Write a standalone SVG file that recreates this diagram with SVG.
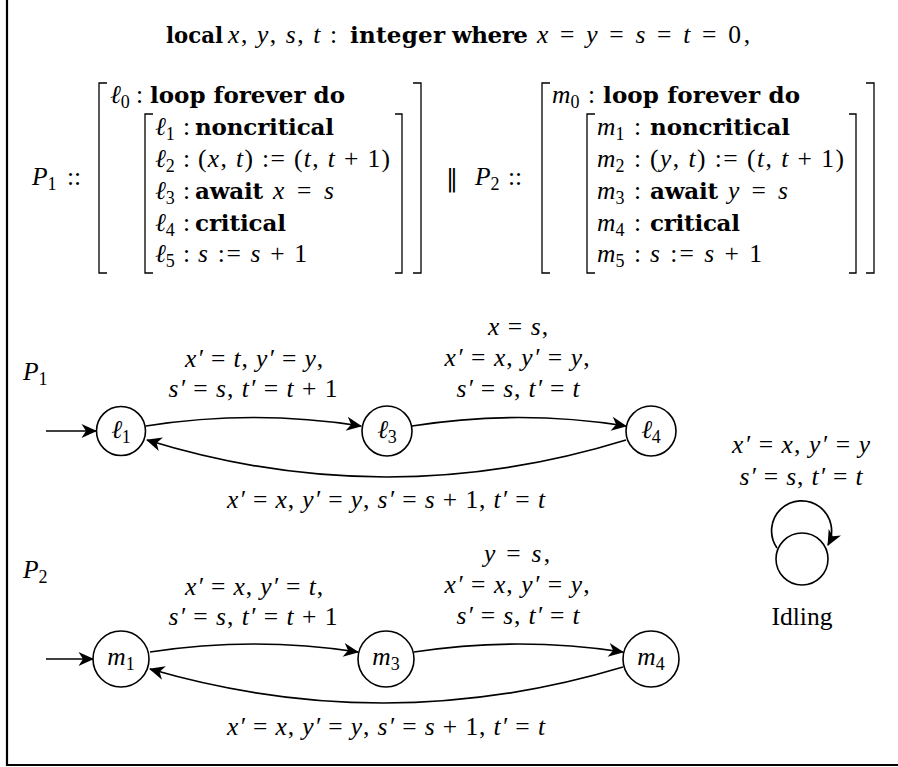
<svg xmlns="http://www.w3.org/2000/svg" width="898" height="767" viewBox="0 0 898 767">
<defs>
<style>
text { font-family: "Liberation Serif", "DejaVu Serif", serif; font-size: 25.5px; fill: #000; }
.i { font-style: italic; }
.b { font-family: "DejaVu Serif", "Liberation Serif", serif; font-weight: bold; font-size: 23px; }
.s { font-size: 18px; }
.c { text-anchor: middle; }
.par { font-family: "DejaVu Serif", serif; font-size: 24px; }
.br { fill: none; stroke: #000; stroke-width: 1.3; }
.e { fill: none; stroke: #000; stroke-width: 1.7; marker-end: url(#ah); }
.n { fill: #fff; stroke: #000; stroke-width: 1.6; }
.frame { fill: none; stroke: #000; stroke-width: 2.2; }
</style>
<marker id="ah" viewBox="-17 -9 19 18" refX="0" refY="0" markerWidth="19" markerHeight="18" markerUnits="userSpaceOnUse" orient="auto">
<path d="M1,0 L-14.5,-7 L-10,0 L-14.5,7 Z" fill="#000"/>
</marker>
</defs>
<rect width="898" height="767" fill="#fff"/>
<path class="frame" d="M7,0 V765 H898"/>

<g id="program">
<text class="b" x="166" y="43" textLength="57" lengthAdjust="spacingAndGlyphs">local</text>
<text x="228" y="43" textLength="109" lengthAdjust="spacing"><tspan class="i">x</tspan>, <tspan class="i">y</tspan>, <tspan class="i">s</tspan>, <tspan class="i">t</tspan> :</text>
<text class="b" x="350" y="43" textLength="95" lengthAdjust="spacing">integer</text>
<text class="b" x="452" y="43" textLength="76" lengthAdjust="spacing">where</text>
<text x="537" y="43" textLength="213" lengthAdjust="spacing"><tspan class="i">x</tspan> = <tspan class="i">y</tspan> = <tspan class="i">s</tspan> = <tspan class="i">t</tspan> = 0,</text>

<text x="32" y="185"><tspan class="i">P</tspan><tspan class="s" baseline-shift="-5">1</tspan></text>
<text x="67" y="185">::</text>
<path class="br" d="M107,83 H99 V273 H107 M413,83 H421 V273 H413 M153,114 H145 V273 H153 M395,114 H402 V273 H395"/>
<text x="110" y="103"><tspan class="i">ℓ</tspan><tspan class="s" baseline-shift="-5">0</tspan></text>
<text x="136" y="103">:</text>
<text class="b" x="150" y="103" textLength="195" lengthAdjust="spacing">loop forever do</text>
<text x="155" y="135"><tspan class="i">ℓ</tspan><tspan class="s" baseline-shift="-5">1</tspan></text>
<text x="183" y="135">:</text>
<text class="b" x="195" y="135" textLength="139" lengthAdjust="spacing">noncritical</text>
<text x="155" y="167"><tspan class="i">ℓ</tspan><tspan class="s" baseline-shift="-5">2</tspan></text>
<text x="183" y="167">:</text>
<text x="198" y="167" textLength="192" lengthAdjust="spacing">(<tspan class="i">x</tspan>, <tspan class="i">t</tspan>) := (<tspan class="i">t</tspan>, <tspan class="i">t</tspan> + 1)</text>
<text x="155" y="199"><tspan class="i">ℓ</tspan><tspan class="s" baseline-shift="-5">3</tspan></text>
<text x="183" y="199">:</text>
<text class="b" x="195" y="199" textLength="68" lengthAdjust="spacing">await</text>
<text x="273" y="199" textLength="61" lengthAdjust="spacing"><tspan class="i">x</tspan> = <tspan class="i">s</tspan></text>
<text x="155" y="231"><tspan class="i">ℓ</tspan><tspan class="s" baseline-shift="-5">4</tspan></text>
<text x="183" y="231">:</text>
<text class="b" x="195" y="231" textLength="91" lengthAdjust="spacing">critical</text>
<text x="155" y="262"><tspan class="i">ℓ</tspan><tspan class="s" baseline-shift="-5">5</tspan></text>
<text x="183" y="262">:</text>
<text x="198" y="262" textLength="109" lengthAdjust="spacing"><tspan class="i">s</tspan> := <tspan class="i">s</tspan> + 1</text>

<text class="par" x="446" y="186">‖</text>
<text x="475" y="185"><tspan class="i">P</tspan><tspan class="s" baseline-shift="-5">2</tspan></text>
<text x="508" y="185">::</text>
<path class="br" d="M550,83 H542 V273 H550 M866,83 H874 V273 H866 M595,114 H587 V273 H595 M849,114 H856 V273 H849"/>
<text x="552" y="103"><tspan class="i">m</tspan><tspan class="s" baseline-shift="-5">0</tspan></text>
<text x="588" y="103">:</text>
<text class="b" x="603" y="103" textLength="197" lengthAdjust="spacing">loop forever do</text>
<text x="597" y="135"><tspan class="i">m</tspan><tspan class="s" baseline-shift="-5">1</tspan></text>
<text x="634" y="135">:</text>
<text class="b" x="650" y="135" textLength="140" lengthAdjust="spacing">noncritical</text>
<text x="597" y="167"><tspan class="i">m</tspan><tspan class="s" baseline-shift="-5">2</tspan></text>
<text x="634" y="167">:</text>
<text x="650" y="167" textLength="194" lengthAdjust="spacing">(<tspan class="i">y</tspan>, <tspan class="i">t</tspan>) := (<tspan class="i">t</tspan>, <tspan class="i">t</tspan> + 1)</text>
<text x="597" y="199"><tspan class="i">m</tspan><tspan class="s" baseline-shift="-5">3</tspan></text>
<text x="634" y="199">:</text>
<text class="b" x="650" y="199" textLength="68" lengthAdjust="spacing">await</text>
<text x="728" y="199" textLength="60" lengthAdjust="spacing"><tspan class="i">y</tspan> = <tspan class="i">s</tspan></text>
<text x="597" y="231"><tspan class="i">m</tspan><tspan class="s" baseline-shift="-5">4</tspan></text>
<text x="634" y="231">:</text>
<text class="b" x="650" y="231" textLength="90" lengthAdjust="spacing">critical</text>
<text x="597" y="262"><tspan class="i">m</tspan><tspan class="s" baseline-shift="-5">5</tspan></text>
<text x="634" y="262">:</text>
<text x="650" y="262" textLength="112" lengthAdjust="spacing"><tspan class="i">s</tspan> := <tspan class="i">s</tspan> + 1</text>
</g>

<g id="titles">
<text x="23" y="380"><tspan class="i">P</tspan><tspan class="s" baseline-shift="-5">1</tspan></text>
<text x="23" y="578"><tspan class="i">P</tspan><tspan class="s" baseline-shift="-5">2</tspan></text>
</g>

<g id="connectors">
<path class="e" d="M46,431 H96"/>
<path class="e" d="M146,426 Q254,409 361,426"/>
<path class="e" d="M412,426 Q519,409 626,426"/>
<path class="e" d="M626,440 Q386,514 147,440"/>
<path class="e" d="M46,659 H93"/>
<path class="e" d="M150,652 Q254,636 358,652"/>
<path class="e" d="M414,652 Q519,636 623,652"/>
<path class="e" d="M623,667 Q387,738 150,669"/>
<path class="e" d="M777,548 A30,30 0 1 1 828,545"/>
</g>

<g id="labels">
<text class="c" x="254" y="367" textLength="138" lengthAdjust="spacing"><tspan class="i">x′</tspan> = <tspan class="i">t</tspan>, <tspan class="i">y′</tspan> = <tspan class="i">y</tspan>,</text>
<text class="c" x="253" y="397" textLength="169" lengthAdjust="spacing"><tspan class="i">s′</tspan> = <tspan class="i">s</tspan>, <tspan class="i">t′</tspan> = <tspan class="i">t</tspan> + 1</text>
<text class="c" x="518" y="335" textLength="60" lengthAdjust="spacing"><tspan class="i">x</tspan> = <tspan class="i">s</tspan>,</text>
<text class="c" x="517" y="366" textLength="145" lengthAdjust="spacing"><tspan class="i">x′</tspan> = <tspan class="i">x</tspan>, <tspan class="i">y′</tspan> = <tspan class="i">y</tspan>,</text>
<text class="c" x="518" y="397" textLength="123" lengthAdjust="spacing"><tspan class="i">s′</tspan> = <tspan class="i">s</tspan>, <tspan class="i">t′</tspan> = <tspan class="i">t</tspan></text>
<text class="c" x="386" y="508" textLength="318" lengthAdjust="spacing"><tspan class="i">x′</tspan> = <tspan class="i">x</tspan>, <tspan class="i">y′</tspan> = <tspan class="i">y</tspan>, <tspan class="i">s′</tspan> = <tspan class="i">s</tspan> + 1, <tspan class="i">t′</tspan> = <tspan class="i">t</tspan></text>

<text class="c" x="254" y="595" textLength="138" lengthAdjust="spacing"><tspan class="i">x′</tspan> = <tspan class="i">x</tspan>, <tspan class="i">y′</tspan> = <tspan class="i">t</tspan>,</text>
<text class="c" x="253" y="625" textLength="169" lengthAdjust="spacing"><tspan class="i">s′</tspan> = <tspan class="i">s</tspan>, <tspan class="i">t′</tspan> = <tspan class="i">t</tspan> + 1</text>
<text class="c" x="517" y="562" textLength="66" lengthAdjust="spacing"><tspan class="i">y</tspan> = <tspan class="i">s</tspan>,</text>
<text class="c" x="517" y="593" textLength="145" lengthAdjust="spacing"><tspan class="i">x′</tspan> = <tspan class="i">x</tspan>, <tspan class="i">y′</tspan> = <tspan class="i">y</tspan>,</text>
<text class="c" x="518" y="624" textLength="123" lengthAdjust="spacing"><tspan class="i">s′</tspan> = <tspan class="i">s</tspan>, <tspan class="i">t′</tspan> = <tspan class="i">t</tspan></text>
<text class="c" x="386" y="735" textLength="318" lengthAdjust="spacing"><tspan class="i">x′</tspan> = <tspan class="i">x</tspan>, <tspan class="i">y′</tspan> = <tspan class="i">y</tspan>, <tspan class="i">s′</tspan> = <tspan class="i">s</tspan> + 1, <tspan class="i">t′</tspan> = <tspan class="i">t</tspan></text>

<text class="c" x="801" y="453" textLength="138" lengthAdjust="spacing"><tspan class="i">x′</tspan> = <tspan class="i">x</tspan>, <tspan class="i">y′</tspan> = <tspan class="i">y</tspan></text>
<text class="c" x="801" y="485" textLength="123" lengthAdjust="spacing"><tspan class="i">s′</tspan> = <tspan class="i">s</tspan>, <tspan class="i">t′</tspan> = <tspan class="i">t</tspan></text>
</g>

<g id="node-l1"><circle class="n" cx="121" cy="431" r="24.5"/><text class="c" x="121" y="438"><tspan class="i">ℓ</tspan><tspan class="s" baseline-shift="-5">1</tspan></text></g>
<g id="node-l3"><circle class="n" cx="387" cy="431" r="25"/><text class="c" x="387" y="438"><tspan class="i">ℓ</tspan><tspan class="s" baseline-shift="-5">3</tspan></text></g>
<g id="node-l4"><circle class="n" cx="651" cy="431" r="25"/><text class="c" x="651" y="438"><tspan class="i">ℓ</tspan><tspan class="s" baseline-shift="-5">4</tspan></text></g>
<g id="node-m1"><circle class="n" cx="121" cy="659" r="28"/><text class="c" x="121" y="665"><tspan class="i">m</tspan><tspan class="s" baseline-shift="-5">1</tspan></text></g>
<g id="node-m3"><circle class="n" cx="386" cy="659" r="28"/><text class="c" x="386" y="665"><tspan class="i">m</tspan><tspan class="s" baseline-shift="-5">3</tspan></text></g>
<g id="node-m4"><circle class="n" cx="651" cy="659" r="28"/><text class="c" x="651" y="665"><tspan class="i">m</tspan><tspan class="s" baseline-shift="-5">4</tspan></text></g>
<g id="node-idle"><circle class="n" cx="802" cy="559" r="26"/><text class="c" x="802" y="625">Idling</text></g>
</svg>
